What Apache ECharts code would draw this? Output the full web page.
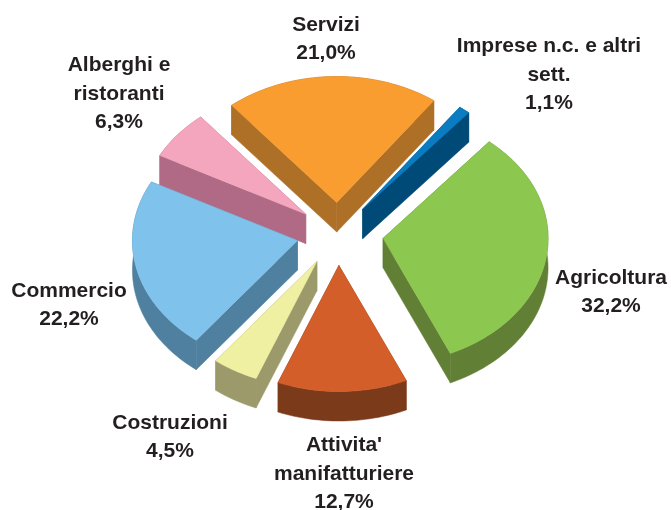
<!DOCTYPE html>
<html>
<head>
<meta charset="utf-8">
<style>html,body{margin:0;padding:0;background:#fff}#c{width:671px;height:510px}</style>
<script src="https://cdn.jsdelivr.net/npm/echarts@6/dist/echarts.min.js"></script>
</head>
<body>
<div id="c"></div>
<script>
// ---- data ----
const categories = ['Agricoltura', "Attivita' manifatturiere", 'Costruzioni', 'Commercio', 'Alberghi e ristoranti', 'Servizi', 'Imprese n.c. e altri sett.'];
const shares = [32.2, 12.7, 4.5, 22.2, 6.3, 21.0, 1.1];
const labelLines = ['Agricoltura\n32,2%', "Attivita'\nmanifatturiere\n12,7%", 'Costruzioni\n4,5%', 'Commercio\n22,2%', 'Alberghi e\nristoranti\n6,3%', 'Servizi\n21,0%', 'Imprese n.c. e altri\nsett.\n1,1%'];
// ---- styles ----
const topColors  = ['#8CC74F', '#D35E2A', '#F0F0A2', '#7FC2EB', '#F4A6BE', '#F99D31', '#0A7CC1'];
const wallColors = ['#617F35', '#7B3A1A', '#9C9A6B', '#50809F', '#B06A86', '#AE6F26', '#004A78'];
// ---- layout ----
const W = 671, H = 510, cx = 338, cy = 234, rx = 165, ry = 126, depth = 29.5;
const startAngle = -50;                       // degrees on the disc, clockwise from 3 o'clock
const explodeX = [45.5, 42, 42.5, 41.5, 41.5, 42, 40], explodeY = 31.5;
const labelPos = [[611, 292], [344, 474], [170, 437], [69, 305], [119, 94], [326, 39], [549, 75]];
const labelFont = 'bold 21px "Liberation Sans", Arial, sans-serif';
const labelLH = 28.5;

const total = shares.reduce((a, b) => a + b, 0);
const rad = d => d * Math.PI / 180;
const spans = [];
let acc = startAngle;
shares.forEach(v => { const a = v / total * 360; spans.push([acc, acc + a]); acc += a; });

function renderSlice(params, api) {
  const i = api.value(1);
  const [a0, a1] = spans[i];
  const mid = rad((a0 + a1) / 2);
  // Apex in unit-disc coordinates
  const ax = explodeX[i] * Math.cos(mid) / rx, ay = explodeY * Math.sin(mid) / ry;
  const d = depth / ry;
  const P = (x, y) => api.coord([x, y]);
  const n = Math.max(4, Math.ceil((a1 - a0) / 1.5));
  const arc = [];
  for (let k = 0; k <= n; k++) {
    const t = rad(a0 + (a1 - a0) * k / n);
    arc.push([ax + Math.cos(t), ay + Math.sin(t)]);
  }
  const top = [P(ax, ay)].concat(arc.map(p => P(p[0], p[1])));
  const first = arc[0], last = arc[n];
  const wall = c => ({ fill: c, stroke: c, lineWidth: 0.5 });
  const poly = (pts, style) => ({ type: 'polygon', shape: { points: pts }, style });
  const outer = arc.map(p => P(p[0], p[1])).concat(arc.slice().reverse().map(p => P(p[0], p[1] + d)));
  const edge = e => [P(ax, ay), P(e[0], e[1]), P(e[0], e[1] + d), P(ax, ay + d)];
  return {
    type: 'group',
    children: [
      poly(edge(first), wall(wallColors[i])),
      poly(edge(last), wall(wallColors[i])),
      poly(outer, wall(wallColors[i])),
      poly(top, { fill: topColors[i], stroke: topColors[i], lineWidth: 0.5 })
    ]
  };
}

function renderLabel(params, api) {
  const i = api.value(1);
  return {
    type: 'text',
    style: {
      text: labelLines[i], x: labelPos[i][0], y: labelPos[i][1],
      align: 'center', verticalAlign: 'middle', textAlign: 'center', textVerticalAlign: 'middle',
      font: labelFont, lineHeight: labelLH, fill: '#231F20'
    }
  };
}

// Paint from back to front
const order = shares.map((v, i) => i).sort((p, q) =>
  Math.sin(rad((spans[p][0] + spans[p][1]) / 2)) - Math.sin(rad((spans[q][0] + spans[q][1]) / 2)));

const chart = echarts.init(document.getElementById('c'), null, { renderer: 'canvas' });
chart.setOption({
  animation: false,
  backgroundColor: '#fff',
  grid: { left: 0, top: 0, width: W, height: H },
  xAxis: { type: 'value', show: false, min: -cx / rx, max: (W - cx) / rx },
  yAxis: { type: 'value', show: false, inverse: true, min: -cy / ry, max: (H - cy) / ry },
  tooltip: { show: false },
  series: [
    { type: 'custom', name: 'Quota', renderItem: renderSlice, silent: true, clip: false,
      encode: { x: -1, y: -1 },
      data: order.map(i => ({ name: categories[i], value: [shares[i], i] })) },
    { type: 'custom', name: 'Etichette', renderItem: renderLabel, silent: true, clip: false,
      encode: { x: -1, y: -1 },
      data: categories.map((c, i) => ({ name: c, value: [shares[i], i] })) }
  ]
});
</script>
</body>
</html>
